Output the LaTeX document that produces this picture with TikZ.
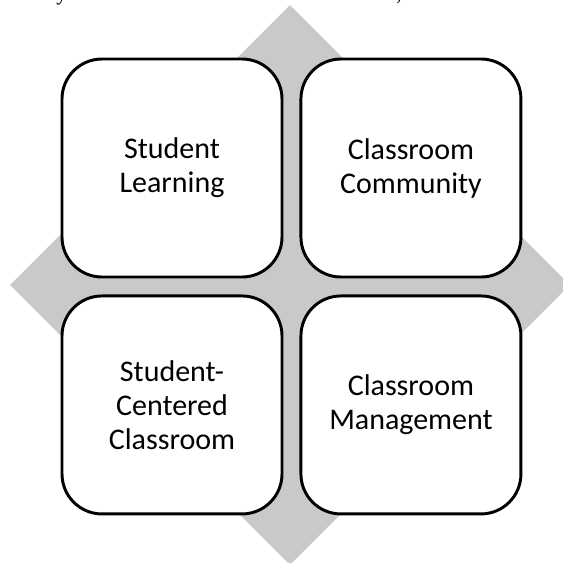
\documentclass[tikz,border=0pt]{standalone}
\usepackage{fontspec}
\setmainfont{Carlito}
\newfontfamily\pagefont{Liberation Serif}
\usetikzlibrary{positioning,shapes.geometric}

\begin{document}
\begin{tikzpicture}
            [x = 0.75pt, y = -0.75pt,
             backdrop/.style = {diamond, fill = black!21, minimum width = 420pt, minimum height = 420pt, inner sep = 0pt},
             card/.style = {draw, fill = white, line width = 2.2pt, rounded corners = 30pt,
                            minimum width = 165pt, minimum height = 163.5pt, align = center,
                            font = \fontsize{22.5pt}{25.5pt}\selectfont},
             node distance = 12pt and 12pt]
            \useasboundingbox (0,0) rectangle (563,562);
            % cut-off text of the page above
            \node[anchor = base west, inner sep = 0pt, font = \pagefont\fontsize{16pt}{19pt}\selectfont] (texty) at (56,0) {y};
            \node[anchor = base west, inner sep = 0pt, font = \pagefont\fontsize{16pt}{19pt}\selectfont] (textcomma) at (396,0) {,};
            \node[backdrop] (mid) at (290,285) {};
            \node[card] (learning) at (172,168) {Student\\Learning};
            \node[card] (community) [right = of learning] {Classroom\\Community};
            \node[card] (centered) [below = of learning] {Student-\\Centered\\Classroom};
            \node[card] (management) [below = of community] {Classroom\\Management};
        \end{tikzpicture}
\end{document}
